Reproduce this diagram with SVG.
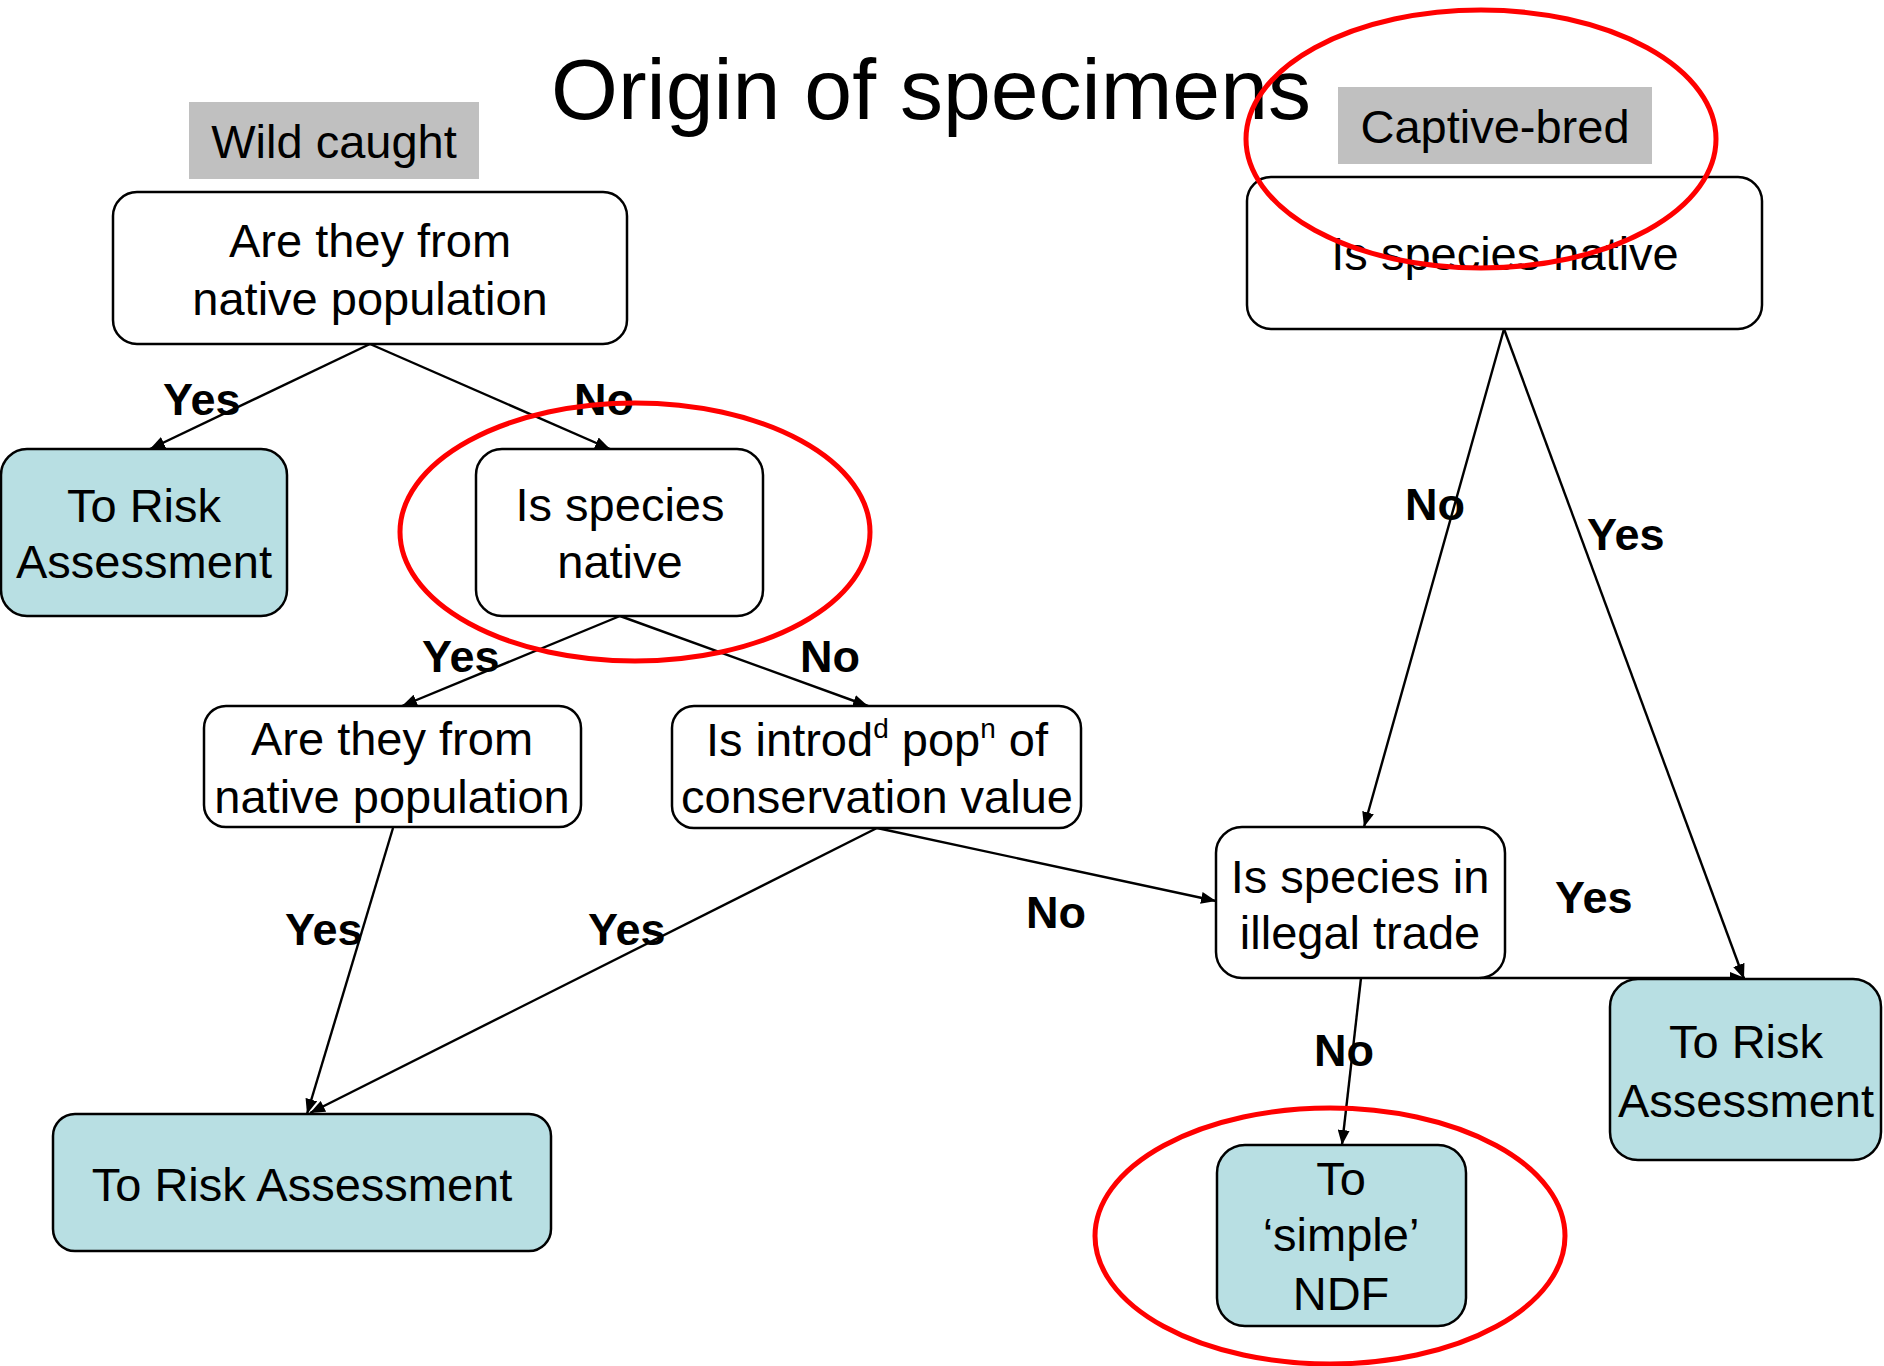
<svg xmlns="http://www.w3.org/2000/svg" width="1884" height="1366" viewBox="0 0 1884 1366">
  <defs>
    <marker id="arrow" markerUnits="userSpaceOnUse" markerWidth="16" markerHeight="12" refX="15" refY="6" orient="auto">
      <path d="M0,0 L15,6 L0,12 z" fill="#000"/>
    </marker>
    <style>
      text { font-family: "Liberation Sans", Arial, sans-serif; fill: #000; }
      .title { font-size: 86px; }
      .node text, .tag text { font-size: 47px; text-anchor: middle; }
      .q { fill: #fff; stroke: #000; stroke-width: 2.5; }
      .end { fill: #b8dfe3; stroke: #000; stroke-width: 2.5; }
      .tag rect { fill: #c0c0c0; }
      .edge { stroke: #000; stroke-width: 2.4; fill: none; marker-end: url(#arrow); }
      .lbl { font-size: 45px; font-weight: bold; }
      .ring { fill: none; stroke: #ff0000; stroke-width: 5; }
    </style>
  </defs>

  <rect width="1884" height="1366" fill="#fff"/>

  <text class="title" x="931" y="119" text-anchor="middle">Origin of specimens</text>

  <!-- category tags -->
  <g id="wild-caught" class="tag">
    <rect x="189" y="102" width="290" height="77"/>
    <text x="334" y="158">Wild caught</text>
  </g>
  <g id="captive-bred" class="tag">
    <rect x="1338" y="87" width="314" height="77"/>
    <text x="1495" y="143">Captive-bred</text>
  </g>

  <!-- connectors -->
  <g id="connectors">
    <line class="edge" x1="370" y1="344" x2="150" y2="449"/>
    <line class="edge" x1="370" y1="344" x2="610" y2="449"/>
    <line class="edge" x1="620" y1="616" x2="402" y2="706"/>
    <line class="edge" x1="620" y1="616" x2="868" y2="706"/>
    <line class="edge" x1="393" y1="828" x2="307" y2="1114"/>
    <line class="edge" x1="877" y1="828" x2="310" y2="1113"/>
    <line class="edge" x1="877" y1="828" x2="1216" y2="901"/>
    <line class="edge" x1="1504" y1="329" x2="1364" y2="827"/>
    <line class="edge" x1="1504" y1="329" x2="1744" y2="979"/>
    <line class="edge" x1="1480" y1="978" x2="1745" y2="978"/>
    <line class="edge" x1="1361" y1="978" x2="1342" y2="1145"/>

    <text class="lbl" x="163" y="415">Yes</text>
    <text class="lbl" x="574" y="415">No</text>
    <text class="lbl" x="422" y="672">Yes</text>
    <text class="lbl" x="800" y="672">No</text>
    <text class="lbl" x="285" y="945">Yes</text>
    <text class="lbl" x="588" y="945">Yes</text>
    <text class="lbl" x="1026" y="928">No</text>
    <text class="lbl" x="1405" y="520">No</text>
    <text class="lbl" x="1587" y="550">Yes</text>
    <text class="lbl" x="1555" y="913">Yes</text>
    <text class="lbl" x="1314" y="1066">No</text>
  </g>

  <!-- wild caught branch -->
  <g id="wild-native-pop" class="node">
    <rect class="q" x="113" y="192" width="514" height="152" rx="24"/>
    <text x="370" y="257">Are they from</text>
    <text x="370" y="315">native population</text>
  </g>
  <g id="risk-1" class="node">
    <rect class="end" x="1" y="449" width="286" height="167" rx="26"/>
    <text x="144" y="522">To Risk</text>
    <text x="144" y="578">Assessment</text>
  </g>
  <g id="wild-species-native" class="node">
    <rect class="q" x="476" y="449" width="287" height="167" rx="26"/>
    <text x="620" y="521">Is species</text>
    <text x="620" y="578">native</text>
  </g>
  <g id="wild-native-pop-2" class="node">
    <rect class="q" x="204" y="706" width="377" height="121" rx="22"/>
    <text x="392" y="755">Are they from</text>
    <text x="392" y="813">native population</text>
  </g>
  <g id="introduced-pop" class="node">
    <rect class="q" x="672" y="706" width="409" height="122" rx="22"/>
    <text x="877" y="756">Is introd<tspan font-size="28" dy="-18">d</tspan><tspan dy="18"> pop</tspan><tspan font-size="28" dy="-18">n</tspan><tspan dy="18"> of</tspan></text>
    <text x="877" y="813">conservation value</text>
  </g>
  <g id="risk-2" class="node">
    <rect class="end" x="53" y="1114" width="498" height="137" rx="22"/>
    <text x="302" y="1201">To Risk Assessment</text>
  </g>

  <!-- captive-bred branch -->
  <g id="captive-species-native" class="node">
    <rect class="q" x="1247" y="177" width="515" height="152" rx="24"/>
    <text x="1505" y="270">Is species native</text>
  </g>
  <g id="illegal-trade" class="node">
    <rect class="q" x="1216" y="827" width="289" height="151" rx="26"/>
    <text x="1360" y="893">Is species in</text>
    <text x="1360" y="949">illegal trade</text>
  </g>
  <g id="risk-3" class="node">
    <rect class="end" x="1610" y="979" width="271" height="181" rx="28"/>
    <text x="1746" y="1058">To Risk</text>
    <text x="1746" y="1117">Assessment</text>
  </g>
  <g id="simple-ndf" class="node">
    <rect class="end" x="1217" y="1145" width="249" height="181" rx="28"/>
    <text x="1341" y="1195">To</text>
    <text x="1341" y="1251">‘simple’</text>
    <text x="1341" y="1310">NDF</text>
  </g>

  <!-- highlight rings -->
  <g id="highlights">
    <ellipse class="ring" cx="1481" cy="139" rx="235" ry="129"/>
    <ellipse class="ring" cx="635" cy="532" rx="235" ry="129"/>
    <ellipse class="ring" cx="1330" cy="1236" rx="235" ry="128"/>
  </g>
</svg>
